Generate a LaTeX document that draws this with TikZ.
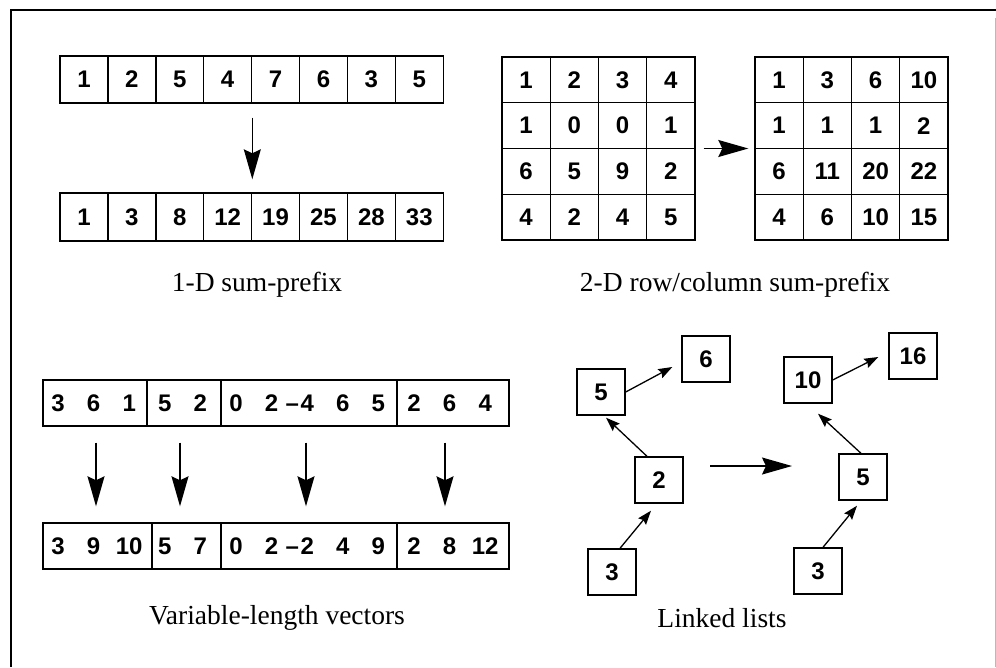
\documentclass[tikz,border=0pt]{standalone}
\usepackage{fontspec}
\setmainfont{Liberation Serif}
\newfontfamily\numfont{Liberation Sans}
\usetikzlibrary{arrows.meta}

\begin{document}
\begin{tikzpicture}[x=1pt,y=-1pt,
  numtext/.style={font=\numfont\bfseries\fontsize{24}{24}\selectfont},
  cell/.style={draw, line width=1.4pt, inner sep=0pt, numtext},
  num/.style={inner sep=0pt, numtext},
  lbox/.style={cell, minimum width=48pt, minimum height=46pt},
  caption/.style={font=\fontsize{27.5}{27.5}\selectfont},
  bigarrow/.style={line width=1.3pt, -{Stealth[length=30pt,width=17pt,inset=4pt]}},
  smallarrow/.style={line width=1.3pt, -{Stealth[length=14pt,width=10pt,inset=2pt]}}
]
\useasboundingbox (0,0) rectangle (996,667);

% outer frame
\draw[line width=1.5pt] (11,667) -- (11,10) -- (996,10);
\draw[gray!55, line width=0.8pt] (995,18) -- (995,667);

% ---- 1-D sum-prefix ----
\foreach \v [count=\i] in {1,2,5,4,7,6,3,5}
  \node[cell, minimum width=47.9pt, minimum height=47pt] (t\i) at ({60+47.9*(\i-0.5)},79.5) {\v};
\foreach \v [count=\i] in {1,3,8,12,19,25,28,33}
  \node[cell, minimum width=47.9pt, minimum height=48pt] (b\i) at ({60+47.9*(\i-0.5)},217) {\v};
\draw[bigarrow, shorten <=14pt, shorten >=13pt] (t4.south east) -- (b4.north east);
\node[caption] (cap1) at (257,285) {1-D sum-prefix};

% ---- 2-D row/column sum-prefix ----
\node[draw, line width=1.4pt, minimum width=193pt, minimum height=183pt, inner sep=0pt] (gL) at (598.5,148.5) {};
\node[draw, line width=1.4pt, minimum width=193pt, minimum height=183pt, inner sep=0pt] (gR) at (851.5,148.5) {};
\foreach \row [count=\r] in {{1,2,3,4},{1,0,0,1},{6,5,9,2},{4,2,4,5}}
  \foreach \v [count=\c] in \row
    \node[cell, minimum width=48.25pt, minimum height=45.75pt] (L\r\c) at ({502+48.25*(\c-0.5)},{57+45.75*(\r-0.5)}) {\v};
\foreach \row [count=\r] in {{1,3,6,10},{1,1,1,2},{6,11,20,22},{4,6,10,15}}
  \foreach \v [count=\c] in \row
    \node[cell, minimum width=48.25pt, minimum height=45.75pt] (R\r\c) at ({755+48.25*(\c-0.5)},{57+45.75*(\r-0.5)}) {\v};
\draw[bigarrow, shorten <=8pt, shorten >=6pt] (gL.east) -- (gR.west);
\node[caption] (cap2) at (735,285) {2-D row/column sum-prefix};

% ---- variable-length vectors ----
\node[cell, minimum width=104pt, minimum height=46pt] (va1) at (95,403) {};
\node[cell, minimum width=74pt,  minimum height=46pt] (va2) at (184,403) {};
\node[cell, minimum width=176pt, minimum height=46pt] (va3) at (309,403) {};
\node[cell, minimum width=112pt, minimum height=46pt] (va4) at (453,403) {};
\node[cell, minimum width=109pt, minimum height=46pt] (vb1) at (97.5,546) {};
\node[cell, minimum width=69pt,  minimum height=46pt] (vb2) at (186.5,546) {};
\node[cell, minimum width=176pt, minimum height=46pt] (vb3) at (309,546) {};
\node[cell, minimum width=112pt, minimum height=46pt] (vb4) at (453,546) {};
\foreach \v [count=\k from 0] in {3,6,1,5,2,0,2,{\llap{–\kern1.5pt}4},6,5,2,6,4}
  \node[num] (na\k) at ({58+35.6*\k},403) {\v};
\foreach \v [count=\k from 0] in {3,9,10,5,7,0,2,{\llap{–\kern1.5pt}2},4,9,2,8,12}
  \node[num] (nb\k) at ({58+35.6*\k},546) {\v};
\draw[bigarrow, shorten <=16pt, shorten >=16pt] ([xshift=1pt]va1.south) -- ([xshift=-1.5pt]vb1.north);
\draw[bigarrow, shorten <=16pt, shorten >=16pt] ([xshift=-4pt]va2.south) -- ([xshift=-6.5pt]vb2.north);
\draw[bigarrow, shorten <=16pt, shorten >=16pt] ([xshift=-3pt]va3.south) -- ([xshift=-3pt]vb3.north);
\draw[bigarrow, shorten <=16pt, shorten >=16pt] ([xshift=-8pt]va4.south) -- ([xshift=-8pt]vb4.north);
\node[caption] (cap3) at (277,618) {Variable-length vectors};

% ---- linked lists ----
\node[lbox] (l5) at (601,392) {5};
\node[lbox] (l6) at (706,359) {6};
\node[lbox] (l2) at (659,480) {2};
\node[lbox] (l3) at (612,572) {3};
\node[lbox] (r10) at (808,380) {10};
\node[lbox] (r16) at (913,356) {16};
\node[lbox] (r5) at (863,477) {5};
\node[lbox] (r3) at (818,571) {3};

\draw[smallarrow] (l5.east) -- ([shift={(-9,8)}]l6.west);
\draw[smallarrow] ([xshift=-12pt]l2.north) -- ([shift={(5,2)}]l5.south);
\draw[smallarrow] ([xshift=8pt]l3.north) -- ([shift={(-8,7)}]l2.south);
\draw[smallarrow] (r10.east) -- ([shift={(-10,1)}]r16.west);
\draw[smallarrow] ([xshift=-2pt]r5.north) -- ([shift={(10,10)}]r10.south);
\draw[smallarrow] ([xshift=5pt]r3.north) -- ([shift={(-6,5)}]r5.south);

\coordinate (ll-from) at (710,466);
\coordinate (ll-to) at (792,466);
\draw[bigarrow] (ll-from) -- (ll-to);
\node[caption] (cap4) at (722,618) {Linked lists};
\end{tikzpicture}
\end{document}
